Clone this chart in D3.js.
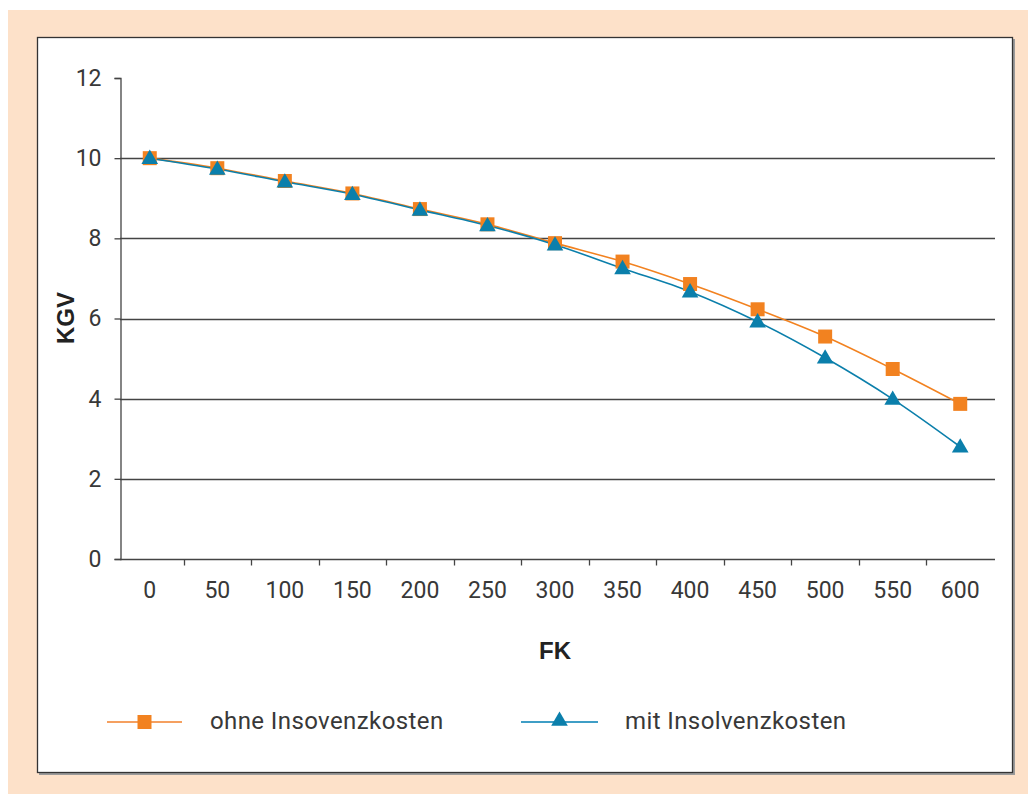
<!DOCTYPE html>
<html>
<head>
<meta charset="utf-8">
<script src="https://cdn.jsdelivr.net/npm/d3@7"></script>
<style>
  html, body { margin: 0; padding: 0; background: #ffffff; }
  svg { display: block; }
</style>
</head>
<body>
<svg id="chart" width="1028" height="794"></svg>
<script>
// Firmenwert (KGV) in Abhängigkeit vom Fremdkapital (FK)
const categories = ["0", "50", "100", "150", "200", "250", "300", "350", "400", "450", "500", "550", "600"];
const ohneInsolvenz = [10.0, 9.75, 9.43, 9.12, 8.73, 8.35, 7.88, 7.42, 6.86, 6.23, 5.55, 4.74, 3.87];
const mitInsolvenz  = [10.0, 9.73, 9.41, 9.10, 8.71, 8.32, 7.84, 7.25, 6.67, 5.92, 5.02, 3.99, 2.80];
const yTicks = [0, 2, 4, 6, 8, 10, 12];
const seriesNames = ["ohne Insovenzkosten", "mit Insolvenzkosten"];

const ORANGE = "#f28220";
const BLUE = "#0b7fab";
const TEXT = "#383838";
const FONT = "Roboto, 'DejaVu Sans', sans-serif";
const BOLD_FONT = "'Liberation Sans', Arial, sans-serif";

const svg = d3.select("#chart");

// frame: peach background and white panel with soft shadow
svg.append("rect").attr("x", 8).attr("y", 10).attr("width", 1020).attr("height", 784).attr("fill", "#fde1c9");
svg.append("rect").attr("x", 39).attr("y", 39).attr("width", 976).attr("height", 736).attr("fill", "#9a9a9a");
svg.append("rect").attr("x", 37.5).attr("y", 37.5).attr("width", 975).attr("height", 735)
  .attr("fill", "#ffffff").attr("stroke", "#333").attr("stroke-width", 1.3);

const x = d3.scaleBand().domain(categories).range([116, 994]).paddingInner(0).paddingOuter(0);
const y = d3.scaleLinear().domain([0, 12]).range([559, 78]);

const plotLeft = 120, plotRight = 995;

// horizontal grid lines
svg.append("g").selectAll("line")
  .data(yTicks.filter(t => t > 0 && t < 12))
  .join("line")
  .attr("x1", plotLeft).attr("x2", plotRight)
  .attr("y1", d => Math.round(y(d)) + 0.5).attr("y2", d => Math.round(y(d)) + 0.5)
  .attr("stroke", "#444").attr("stroke-width", 1.3);

// y axis
const yAxis = svg.append("g").attr("transform", `translate(${plotLeft + 0.5},0)`)
  .call(d3.axisLeft(y).tickValues(yTicks).tickSize(6).tickPadding(13).tickFormat(d3.format("d")));
yAxis.select(".domain").attr("stroke", "#444").attr("stroke-width", 1.3);
yAxis.selectAll(".tick line").attr("stroke", "#444").attr("stroke-width", 1.3);
yAxis.selectAll(".tick text").attr("fill", TEXT).attr("font-family", FONT).attr("font-size", 23);

// x axis line and tick marks at band boundaries
const xAxisY = Math.round(y(0)) + 0.5;
svg.append("line").attr("x1", plotLeft).attr("x2", plotRight)
  .attr("y1", xAxisY).attr("y2", xAxisY).attr("stroke", "#444").attr("stroke-width", 1.3);
svg.append("g").selectAll("line")
  .data(categories.slice(1))
  .join("line")
  .attr("x1", d => Math.round(x(d)) + 0.5).attr("x2", d => Math.round(x(d)) + 0.5)
  .attr("y1", xAxisY).attr("y2", xAxisY + 6)
  .attr("stroke", "#444").attr("stroke-width", 1.3);
svg.append("g").selectAll("text")
  .data(categories)
  .join("text")
  .attr("x", d => x(d) + x.bandwidth() / 2)
  .attr("y", 598)
  .attr("text-anchor", "middle")
  .attr("fill", TEXT).attr("font-family", FONT).attr("font-size", 23)
  .text(d => d);

// axis titles
svg.append("text").attr("x", 555).attr("y", 659).attr("text-anchor", "middle")
  .attr("font-family", BOLD_FONT).attr("font-weight", "bold")
  .attr("font-size", 24).attr("fill", "#222").text("FK");
svg.append("text").attr("transform", "translate(74,318) rotate(-90)").attr("text-anchor", "middle")
  .attr("font-family", BOLD_FONT).attr("font-weight", "bold")
  .attr("font-size", 24).attr("fill", "#222").text("KGV");

// series
const cx = (d, i) => x(categories[i]) + x.bandwidth() / 2;
const line = d3.line().x(cx).y(d => y(d)).curve(d3.curveCatmullRom.alpha(0.5));

svg.append("path").datum(ohneInsolvenz).attr("d", line)
  .attr("fill", "none").attr("stroke", ORANGE).attr("stroke-width", 1.6);
svg.append("path").datum(mitInsolvenz).attr("d", line)
  .attr("fill", "none").attr("stroke", BLUE).attr("stroke-width", 1.6);

const sq = d3.symbol().type(d3.symbolSquare).size(196);
const tri = d3.symbol().type(d3.symbolTriangle).size(120);

svg.append("g").selectAll("path")
  .data(ohneInsolvenz)
  .join("path")
  .attr("d", sq)
  .attr("transform", (d, i) => `translate(${cx(d, i)},${y(d)})`)
  .attr("fill", ORANGE);
svg.append("g").selectAll("path")
  .data(mitInsolvenz)
  .join("path")
  .attr("d", tri)
  .attr("transform", (d, i) => `translate(${cx(d, i)},${y(d) + 1})`)
  .attr("fill", BLUE);

// legend
const legend = svg.append("g");
const legendItems = [
  { name: seriesNames[0], x0: 107, x1: 182, color: "#f5a060", mark: sq, fill: ORANGE, tx: 210 },
  { name: seriesNames[1], x0: 521, x1: 598, color: "#3f9ec6", mark: tri, fill: BLUE, tx: 625 }
];
legendItems.forEach(it => {
  legend.append("line").attr("x1", it.x0).attr("x2", it.x1).attr("y1", 722).attr("y2", 722)
    .attr("stroke", it.color).attr("stroke-width", 2);
  legend.append("path").attr("d", it.mark)
    .attr("transform", `translate(${(it.x0 + it.x1) / 2},${it.mark === tri ? 721 : 722})`)
    .attr("fill", it.fill);
  legend.append("text").attr("x", it.tx).attr("y", 729)
    .attr("fill", TEXT).attr("font-family", FONT).attr("font-size", 24)
    .attr("letter-spacing", 0.4).text(it.name);
});
</script>
</body>
</html>
